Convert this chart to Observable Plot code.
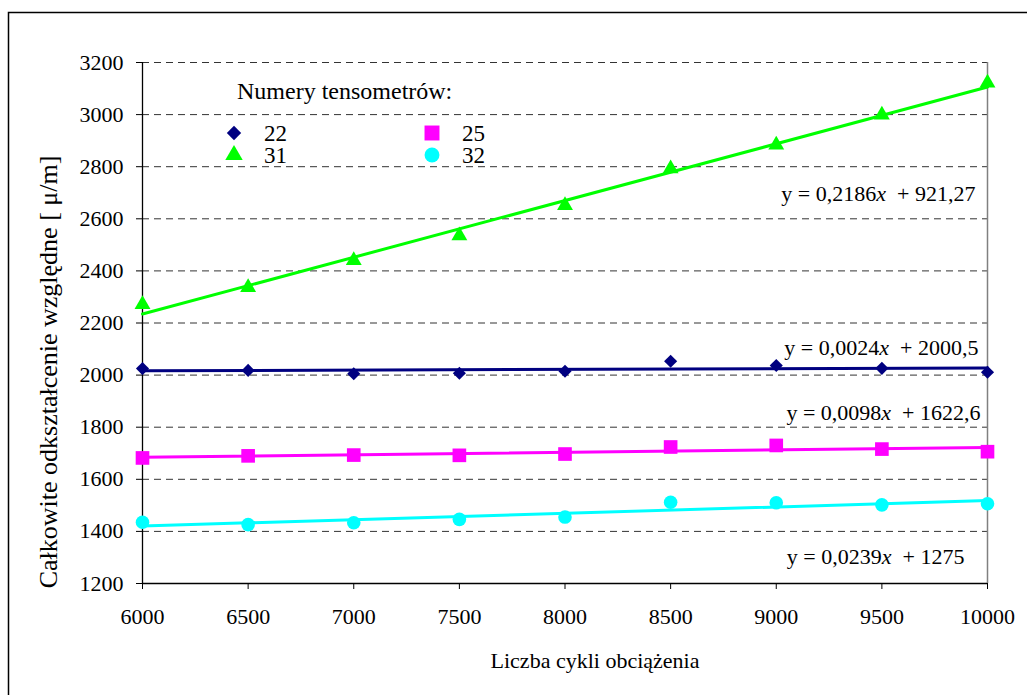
<!DOCTYPE html>
<html><head><meta charset="utf-8">
<script src="https://cdn.jsdelivr.net/npm/d3@7"></script>
<script src="https://cdn.jsdelivr.net/npm/@observablehq/plot@0.6"></script>
<style>body{margin:0;background:#fff;} #chart svg{display:block;} #chart svg text{font-family:'Liberation Serif','Times New Roman',serif;}</style>
</head><body><div id="chart"></div>
<script>
// ---- data ----
const cycles = [6000, 6500, 7000, 7500, 8000, 8500, 9000, 9500, 10000];
const s22 = [2025, 2018, 2005, 2007, 2015, 2053, 2037, 2026, 2011];
const s25 = [1682, 1690, 1693, 1692, 1697, 1724, 1730, 1716, 1706];
const s31 = [2271, 2337, 2440, 2535, 2651, 2792, 2884, 2999, 3122];
const s32 = [1435, 1426, 1433, 1446, 1455, 1512, 1510, 1502, 1506];
const seriesNames = ["22", "25", "31", "32"];
const seriesValues = [s22, s25, s31, s32];
const seriesColors = ["#000080", "#FF00FF", "#00FF00", "#00FFFF"];
const seriesSymbols = ["diamond2", "square", "triangle", "circle"];
const seriesR = [5.9, 7.7, 5.9, 6.8];
const equations = ["y = 0,2186x  + 921,27", "y = 0,0024x  + 2000,5", "y = 0,0098x  + 1622,6", "y = 0,0239x  + 1275"];
const eqX = [9943, 9957, 9967, 9891];
const eqY = [2697, 2106, 1853, 1300];
const xTicks = [6000, 6500, 7000, 7500, 8000, 8500, 9000, 9500, 10000];
const yTicks = [1200, 1400, 1600, 1800, 2000, 2200, 2400, 2600, 2800, 3000, 3200];
const xTitle = "Liczba cykli obciążenia";
const yTitle = "Całkowite odkształcenie względne [ μ/m]";
const legendTitle = "Numery tensometrów:";

const rows = seriesNames.flatMap((name, i) => cycles.map((c, j) => ({series: name, idx: i, x: c, y: seriesValues[i][j]})));
const bySeries = seriesNames.map((n, i) => rows.filter(r => r.idx === i));

const font = "'Liberation Serif', 'Times New Roman', serif";

const plot = Plot.plot({
  width: 1027, height: 695,
  marginLeft: 142, marginRight: 40, marginTop: 62, marginBottom: 112,
  style: {fontFamily: font, fontSize: "22px", background: "#fff", color: "#000"},
  x: {domain: [6000, 10000], ticks: xTicks, tickFormat: "d", label: null},
  y: {domain: [1200, 3200], ticks: yTicks, tickFormat: "d", label: null},
  marks: [
    Plot.gridY(yTicks.filter(d => d > 1200), {stroke: "#333", strokeOpacity: 1, strokeDasharray: "7,5"}),
    Plot.ruleX([10000], {stroke: "#808080", strokeWidth: 1.5}),
    Plot.ruleX([6000], {stroke: "#000", strokeWidth: 1.3}),
    Plot.ruleY([1200], {stroke: "#000", strokeWidth: 1.3}),
    Plot.axisX({ticks: xTicks, tickFormat: "d", tickSize: 6, tickPadding: 19, fontSize: 22, fontFamily: font, label: null}),
    Plot.axisY({ticks: yTicks, tickFormat: "d", tickSize: 6, tickPadding: 13, fontSize: 22, fontFamily: font, label: null}),
    ...bySeries.map((d, i) => Plot.linearRegressionY(d, {x: "x", y: "y", stroke: seriesColors[i], strokeWidth: 3, ci: 0})),
    ...bySeries.map((d, i) => Plot.dot(d, {x: "x", y: "y", symbol: seriesSymbols[i], r: seriesR[i], fill: seriesColors[i], stroke: "none"})),
    Plot.text(equations, {x: (d, i) => eqX[i], y: (d, i) => eqY[i], text: d => d, textAnchor: "end", fontSize: 22, fontFamily: font, fill: "#000"})
  ]
});
document.getElementById("chart").appendChild(plot);

const svg = d3.select(plot);
// italic x in equations
svg.selectAll("text").filter(function() { return this.textContent.startsWith("y = "); }).each(function() {
  const t = this.textContent;
  const k = t.indexOf("x");
  const el = d3.select(this);
  el.text(null).style("white-space", "pre");
  el.append("tspan").text(t.slice(0, k));
  el.append("tspan").attr("font-style", "italic").text("x");
  el.append("tspan").text(t.slice(k + 1));
});

// outer frame
svg.append("rect").attr("x", 8.5).attr("y", 12.5).attr("width", 1040).attr("height", 700)
  .attr("fill", "none").attr("stroke", "#000").attr("stroke-width", 1.5);

// axis titles
svg.append("text").attr("x", 595).attr("y", 668).attr("text-anchor", "middle")
  .style("font-size", "22px").text(xTitle);
svg.append("text").attr("transform", "translate(57,372) rotate(-90)").attr("text-anchor", "middle")
  .style("font-size", "26px").text(yTitle);

// legend
const lg = svg.append("g");
lg.append("text").attr("x", 237).attr("y", 99).attr("text-anchor", "start").style("font-size", "24px").text(legendTitle);
const legPos = [[234, 133], [432, 133], [234, 155], [432, 155]];
const legSym = {diamond2: d3.symbolDiamond2, square: d3.symbolSquare, triangle: d3.symbolTriangle, circle: d3.symbolCircle};
[0, 1, 2, 3].forEach((i, k) => {
  const [px, py] = legPos[k];
  lg.append("path").attr("transform", `translate(${px},${py})`)
    .attr("d", d3.symbol(legSym[seriesSymbols[i]], Math.PI * seriesR[i] * seriesR[i] * 1.2)())
    .attr("fill", seriesColors[i]);
  lg.append("text").attr("x", px + 30).attr("y", py + 8).attr("text-anchor", "start").style("font-size", "23px").text(seriesNames[i]);
});
</script>
</body></html>
